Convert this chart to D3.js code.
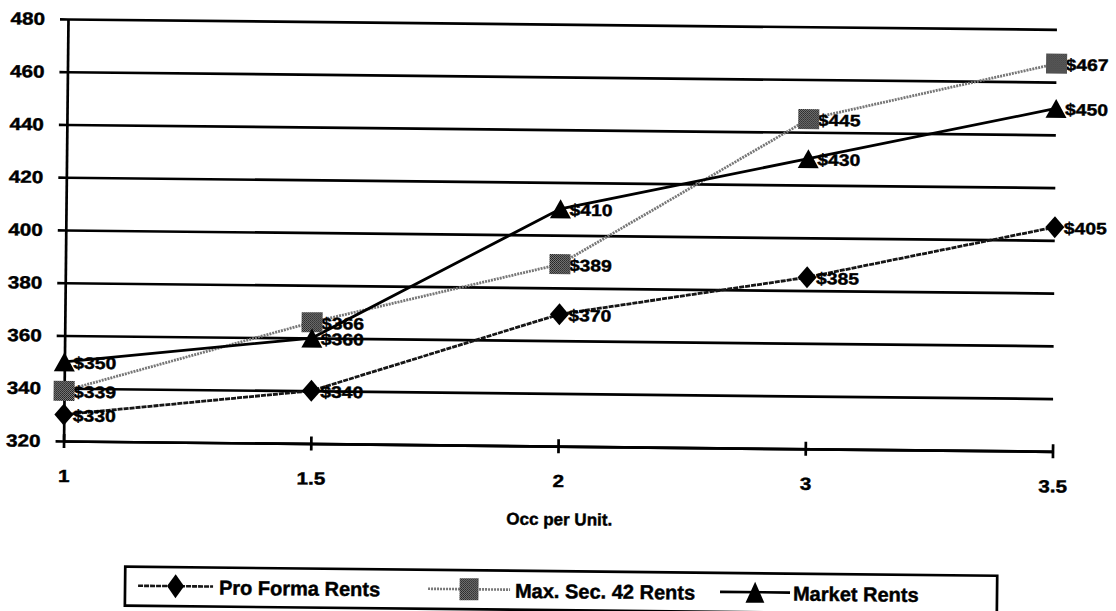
<!DOCTYPE html>
<html>
<head>
<meta charset="utf-8">
<script src="https://cdn.jsdelivr.net/npm/d3@7"></script>
<style>
  html, body { margin: 0; padding: 0; background: #fff; }
  svg { display: block; }
  text { font-family: "Liberation Sans", Arial, Helvetica, sans-serif; font-weight: bold; fill: #000; stroke: #000; stroke-width: 0.45px; }
</style>
</head>
<body>
<svg id="chart" width="1116" height="611"></svg>
<script>
// Occupants per unit (category axis)
const categories = ["1", "1.5", "2", "3", "3.5"];

// Monthly rents by occupancy
const proFormaRents = [330, 340, 370, 385, 405];
const maxSec42Rents = [339, 366, 389, 445, 467];
const marketRents   = [350, 360, 410, 430, 450];

const yTicks = [320, 340, 360, 380, 400, 420, 440, 460, 480];
const xTitle = "Occ per Unit.";
const seriesNames = ["Pro Forma Rents", "Max. Sec. 42 Rents", "Market Rents"];

const svg = d3.select("#chart");

// Stippled fill for the square markers
const defs = svg.append("defs");
const pat = defs.append("pattern")
  .attr("id", "stipple").attr("patternUnits", "userSpaceOnUse")
  .attr("width", 2).attr("height", 2);
pat.append("rect").attr("width", 2).attr("height", 2).attr("fill", "#8a8a8a");
pat.append("rect").attr("width", 1).attr("height", 1).attr("fill", "#111");
pat.append("rect").attr("x", 1).attr("y", 1).attr("width", 1).attr("height", 1).attr("fill", "#222");

const plotLeft = 68, plotRight = 1057, plotTop = 19, plotBottom = 441;

// Whole page sits slightly tilted, as printed
const root = svg.append("g").attr("transform", `rotate(0.6, ${plotLeft}, ${plotTop})`);

const x = d3.scalePoint().domain(categories).range([plotLeft, plotRight]);
const y = d3.scaleLinear().domain([320, 480]).range([plotBottom, plotTop]);

const ink = 2.7;

// Horizontal gridlines
const grid = root.append("g").attr("transform", `translate(${plotLeft},0)`)
  .call(d3.axisLeft(y).tickValues(yTicks).tickSize(-(plotRight - plotLeft)).tickFormat(""));
grid.select(".domain").remove();
grid.selectAll("line").attr("stroke", "#000").attr("stroke-width", ink);

// Y axis with outside ticks and labels
const yAxis = root.append("g").attr("transform", `translate(${plotLeft},0)`)
  .call(d3.axisLeft(y).tickValues(yTicks).tickSize(8).tickSizeOuter(0).tickPadding(11.5).tickFormat(d3.format("d")));
yAxis.select(".domain").attr("stroke", "#000").attr("stroke-width", ink);
yAxis.selectAll("line").attr("stroke", "#000").attr("stroke-width", ink);
yAxis.selectAll("text")
  .attr("font-size", "17.5px")
  .attr("transform", "scale(1.18,1)")
  .attr("font-family", null);

// X axis with ticks crossing the baseline
const xAxis = root.append("g").attr("transform", `translate(0,${plotBottom})`)
  .call(d3.axisBottom(x).tickSize(7).tickSizeOuter(0).tickPadding(21.6));
xAxis.select(".domain").attr("stroke", "#000").attr("stroke-width", ink);
xAxis.selectAll("line").attr("y1", -7).attr("y2", 7).attr("stroke", "#000").attr("stroke-width", ink);
xAxis.selectAll("text")
  .attr("font-size", "17.5px")
  .attr("transform", "scale(1.18,1)")
  .attr("font-family", null);

// Axis title
root.append("text")
  .attr("x", (plotLeft + plotRight) / 2 + 2).attr("y", 514).attr("dy", "0.35em")
  .attr("text-anchor", "middle").attr("font-size", "17px")
  .text(xTitle);

// Marker shapes
const markerPath = {
  diamond: (w, h) => `M0,${-h/2}L${w/2},0L0,${h/2}L${-w/2},0Z`,
  square: (w, h) => `M${-w/2},${-h/2}H${w/2}V${h/2}H${-w/2}Z`,
  triangle: (w, h) => `M0,${-h/2}L${w/2},${h/2}H${-w/2}Z`
};

const series = [
  { name: seriesNames[0], values: proFormaRents, stroke: "#161616", dash: "5 1", shape: "diamond", fill: "#000", w: 19, h: 22 },
  { name: seriesNames[1], values: maxSec42Rents, stroke: "#777", dash: "2 1", shape: "square", fill: "url(#stipple)", w: 21, h: 20 },
  { name: seriesNames[2], values: marketRents,   stroke: "#000", dash: null,  shape: "triangle", fill: "#000", w: 21, h: 19 }
];

const line = d3.line().x((d, i) => x(categories[i])).y(d => y(d));

series.forEach(s => {
  root.append("path")
    .datum(s.values)
    .attr("fill", "none")
    .attr("stroke", s.stroke)
    .attr("stroke-width", 2.8)
    .attr("stroke-dasharray", s.dash)
    .attr("d", line);
});

// Value labels, then markers on top
series.forEach(s => {
  root.append("g").selectAll("text")
    .data(s.values)
    .join("text")
    .attr("transform", (d, i) => `translate(${x(categories[i]) + 9},${y(d) + 1}) scale(1.17,1)`)
    .attr("dy", "0.35em")
    .attr("font-size", "16.5px")
    .text(d => "$" + d);
});

series.forEach(s => {
  root.append("g").selectAll("path")
    .data(s.values)
    .join("path")
    .attr("transform", (d, i) => `translate(${x(categories[i])},${y(d)})`)
    .attr("d", markerPath[s.shape](s.w, s.h))
    .attr("fill", s.fill);
});

// Legend
const legend = root.append("g");
legend.append("rect")
  .attr("x", 131).attr("y", 566).attr("width", 872).attr("height", 39)
  .attr("fill", "none").attr("stroke", "#000").attr("stroke-width", 2.7);

const legendItems = [
  { x0: 144, x1: 219, tx: 225 },
  { x0: 434, x1: 516, tx: 521 },
  { x0: 726, x1: 796, tx: 799 }
];
const ly = 585;
series.forEach((s, i) => {
  const it = legendItems[i];
  const cx = (it.x0 + it.x1) / 2;
  legend.append("line")
    .attr("x1", it.x0).attr("x2", it.x1).attr("y1", ly).attr("y2", ly)
    .attr("stroke", s.stroke).attr("stroke-width", 2.6)
    .attr("stroke-dasharray", s.dash);
  legend.append("path")
    .attr("transform", `translate(${cx},${ly})`)
    .attr("d", markerPath[s.shape](s.w * 0.9, s.h + 2))
    .attr("fill", s.fill);
  legend.append("text")
    .attr("x", it.tx).attr("y", ly + 1).attr("dy", "0.35em")
    .attr("font-size", "20px")
    .text(s.name);
});
</script>
</body>
</html>
